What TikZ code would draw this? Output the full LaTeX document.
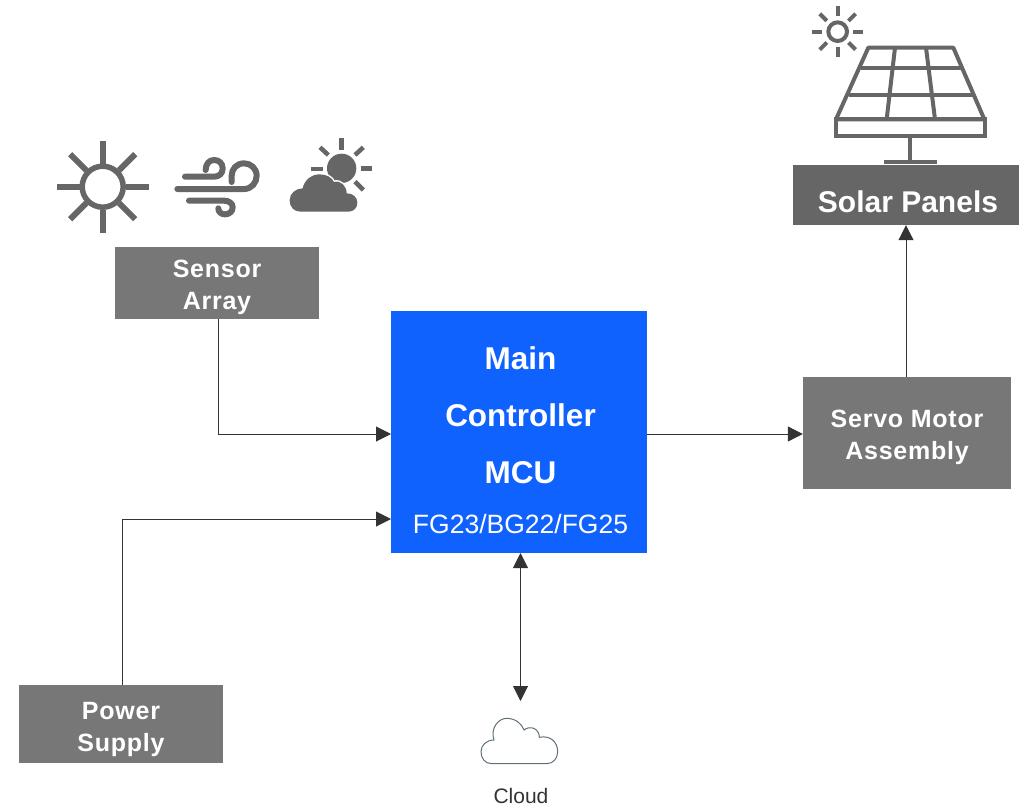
\documentclass[tikz,border=0pt]{standalone}
\usepackage{fontspec}
\usepackage{xcolor}
\usetikzlibrary{arrows.meta}
\setmainfont{Liberation Sans}
\definecolor{boxGray}{HTML}{777777}
\definecolor{iconGray}{HTML}{666666}
\definecolor{lineGray}{HTML}{333333}
\definecolor{mcuBlue}{HTML}{0F62FE}
\definecolor{cloudGray}{HTML}{5F7078}
\newcommand{\drop}[1]{\rule{0pt}{#1pt}}
\newcommand{\nudge}{\hspace*{3pt}}
\tikzset{
  graybox/.style={fill=boxGray, text=white, align=center, inner sep=0pt,
    font=\fontsize{25}{32}\selectfont\bfseries\addfontfeatures{LetterSpace=3}},
  link/.style={draw=lineGray, line width=1pt, -{Triangle[width=15pt,length=15pt]}},
  biglink/.style={draw=lineGray, line width=1pt, {Triangle[width=15pt,length=15pt]}-{Triangle[width=15pt,length=15pt]}},
  icon/.style={draw=iconGray, line width=4pt},
  windline/.style={draw=iconGray, line width=6pt, line cap=round},
  ray/.style={draw=iconGray, line width=6pt},
  smallray/.style={draw=iconGray, line width=4.5pt}
}

\begin{document}
\begin{tikzpicture}[x=1pt, y=-1pt]
     \useasboundingbox (0,0) rectangle (1028,806);
     % Boxes.
     \node [graybox, minimum width=204pt, minimum height=72pt] (sensor) at (217,283) {\drop{26}Sensor\\Array};
     \node [graybox, minimum width=204pt, minimum height=78pt] (power) at (121,724) {\drop{28}Power\\Supply};
     \node [graybox, minimum width=208pt, minimum height=112pt] (servo) at (907,433) {\drop{26}Servo Motor\\Assembly};
     \node [graybox, fill=iconGray, minimum width=226pt, minimum height=60pt,
       font=\fontsize{30}{36}\selectfont\bfseries] (solar) at (906,195) {\hspace*{4pt}\drop{36}Solar Panels};
     \node [fill=mcuBlue, text=white, align=center, inner sep=0pt, minimum width=256pt, minimum height=242pt,
       font=\fontsize{31.5}{36}\selectfont\bfseries] (main) at (519,432)
       {\nudge\drop{39}Main\\[21pt]\nudge Controller\\[21pt]\nudge MCU\\[14pt]{\fontsize{26.5}{30}\selectfont\mdseries\nudge FG23/BG22/FG25}};
     \node [font=\fontsize{21}{24}\selectfont, text=lineGray, inner sep=0pt] (cloudLabel) at (521,795.5) {Cloud};
     % Connector ends.
     \coordinate (sensorOut) at (218,319);
     \coordinate (powerOut) at (122,685);
     \coordinate (mainSensor) at (391,434);
     \coordinate (mainPower) at (391,519);
     \coordinate (mainOut) at (647,434);
     \coordinate (mainCloud) at (520.5,553);
     \coordinate (cloudTop) at (520.5,701);
     % Connectors.
     \draw [link] (sensorOut) |- (mainSensor);
     \draw [link] (powerOut) |- (mainPower);
     \draw [link] (mainOut) -- (mainOut -| servo.west);
     \draw [link] (solar.south |- servo.north) -- (solar.south);
     \draw [biglink] (mainCloud) -- (cloudTop);
     % Sun.
     \draw [icon, line width=5.5pt] (102.7,186.7) circle [radius=20.5];
     \foreach \a in {0,45,...,315}
       \draw [ray] (102.7,186.7) ++(\a:23) -- ++(\a:23);
     % Wind.
     \begin{scope}[shift={(40,120)}, scale=1/3]
       \draw [windline] (435,170) -- (522,170)
         .. controls (538,170) and (548,160) .. (548,145)
         .. controls (548,130) and (537,120) .. (522,120)
         .. controls (507,120) and (497,133) .. (497,150);
       \draw [windline] (412,207) -- (612,207)
         .. controls (635,207) and (650,188) .. (650,167)
         .. controls (650,145) and (632,130) .. (612,130)
         .. controls (590,130) and (575,147) .. (575,167) -- (575,186);
       \draw [windline] (447,242) -- (552,242)
         .. controls (567,242) and (578,250) .. (578,262)
         .. controls (578,275) and (567,283) .. (555,283)
         .. controls (544,283) and (535,276) .. (535,265);
       % Sun and cloud.
       \fill [iconGray] (905,145) circle [radius=44];
       \foreach \a/\b/\c/\d in {905/55/905/90, 962/145/997/145, 813/147/848/147,
         840/82/865/105, 970/82/945/105, 945/185/970/210}
         \draw [smallray] (\a,\b) -- (\c,\d);
       \fill [iconGray, preaction={draw=white, line width=3pt}] (782,275)
         .. controls (762,275) and (749,262) .. (749,240)
         .. controls (749,220) and (768,205) .. (788,205)
         .. controls (793,180) and (815,163) .. (838,163)
         .. controls (860,163) and (875,172) .. (882,186)
         .. controls (902,180) and (920,198) .. (920,220)
         .. controls (940,220) and (952,232) .. (952,248)
         .. controls (952,265) and (940,275) .. (925,275) -- cycle;
     \end{scope}
     % Solar panel.
     \begin{scope}[shift={(790,0)}, scale=1/3]
       \draw [icon, line join=round] (235,143) -- (490,143) -- (583,358) -- (138,358) -- cycle;
       \draw [icon] (138,358) rectangle (585,408);
       \draw [icon] (213,205) -- (516,205);
       \draw [icon] (178,285) -- (550,285);
       \draw [icon] (315,143) -- (290,358);
       \draw [icon] (408,143) -- (435,358);
       \draw [icon] (361,408) -- (361,487);
       \draw [icon] (282,487) -- (442,487);
       % Small sun.
       \draw [icon] (143,95) circle [radius=28];
       \foreach \a in {0,45,...,315}
         \draw [icon] (143,95) ++(\a:46) -- ++(\a:30);
     \end{scope}
     % Cloud outline.
     \begin{scope}[shift={(460,540)}, scale=1/3]
       \draw [draw=cloudGray, line width=1pt] (95,671)
         .. controls (75,671) and (63,655) .. (63,635)
         .. controls (63,615) and (80,600) .. (102,600)
         .. controls (90,565) and (115,535) .. (140,535)
         .. controls (165,535) and (185,550) .. (192,570)
         .. controls (210,555) and (238,565) .. (238,592)
         .. controls (270,585) and (293,605) .. (293,635)
         .. controls (293,655) and (280,671) .. (260,671) -- cycle;
     \end{scope}
\end{tikzpicture}
\end{document}
